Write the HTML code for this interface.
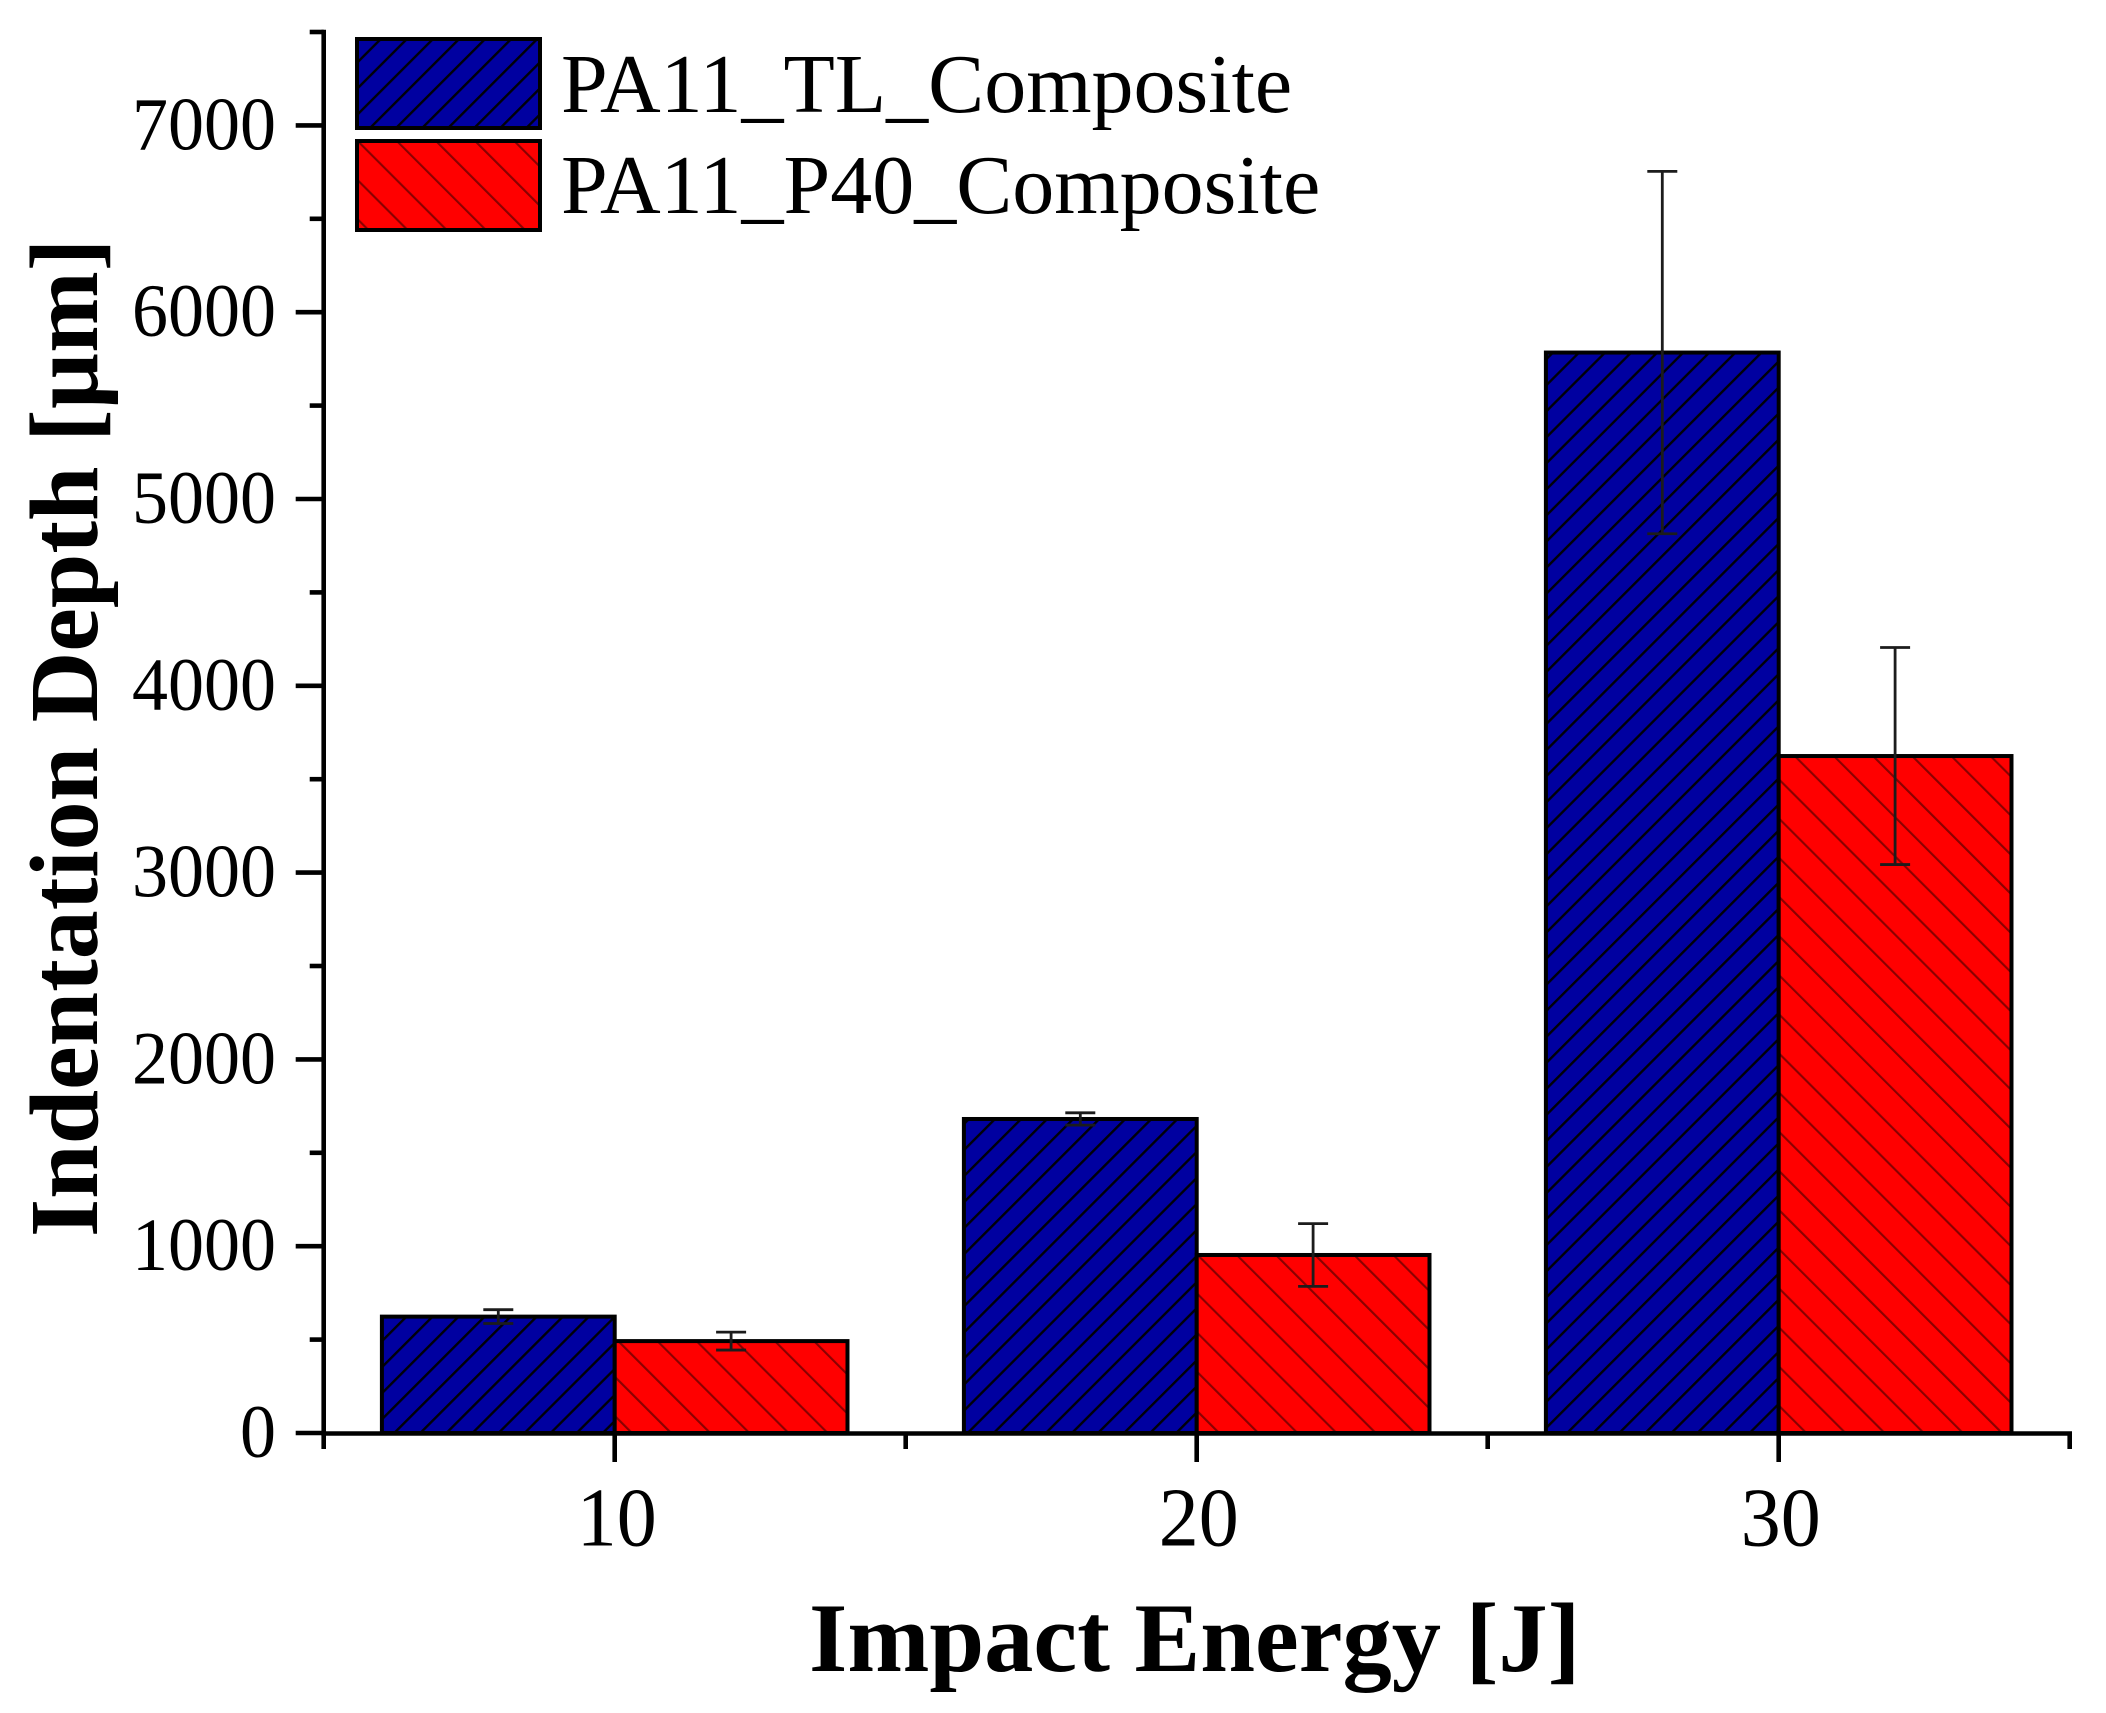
<!DOCTYPE html>
<html lang="en">
<head>
<meta charset="utf-8">
<title>Indentation Depth vs Impact Energy</title>
<style>
  html, body { margin: 0; padding: 0; background: #ffffff; }
  #chart { display: block; width: 2106px; height: 1713px; font-family: "Liberation Serif", serif; fill: #000; }
</style>
</head>
<body>
<svg id="chart" xmlns="http://www.w3.org/2000/svg" width="2106" height="1713" viewBox="0 0 2106 1713">
  <defs>
    <pattern id="hatch-blue" patternUnits="userSpaceOnUse" width="18.43" height="18.43" patternTransform="translate(966,1433) rotate(45)">
      <rect x="0" y="0" width="18.43" height="18.43" fill="#0000a0"></rect>
      <rect x="0" y="0" width="2.4" height="18.43" fill="#000008"></rect>
    </pattern>
    <pattern id="hatch-red" patternUnits="userSpaceOnUse" width="27.68" height="27.68" patternTransform="translate(1217.6,1433) rotate(-45)">
      <rect x="0" y="0" width="27.68" height="27.68" fill="#ff0000"></rect>
      <rect x="0" y="0" width="2.1" height="27.68" fill="#8a0000"></rect>
    </pattern>
  </defs>
  <g id="bars"></g>
  <g id="errors"></g>
  <g id="axes"></g>
  <g id="legend">
    <rect x="357" y="39" width="183" height="89" fill="url(#hatch-blue)" stroke="#000" stroke-width="4"></rect>
    <text x="561" y="112" font-size="84">PA11_TL_Composite</text>
    <rect x="357" y="141" width="183" height="89" fill="url(#hatch-red)" stroke="#000" stroke-width="4"></rect>
    <text x="561" y="213" font-size="84">PA11_P40_Composite</text>
  </g>
  <text x="97" y="1237" font-size="98" font-weight="bold" transform="rotate(-90 97 1237)">Indentation Depth [µm]</text>
  <text x="809" y="1671" font-size="98.5" font-weight="bold">Impact Energy [J]</text>
</svg>
<script>
const categories = [10, 20, 30];
const tlValues = [623, 1681, 5784];
const p40Values = [492, 953, 3624];
const tlErrors = [37, 33, 970];
const p40Errors = [48, 168, 581];
const yTickLabels = [0, 1000, 2000, 3000, 4000, 5000, 6000, 7000];
const yMinorTicks = [500, 1500, 2500, 3500, 4500, 5500, 6500, 7500];
const xMinorTicks = [5, 15, 25, 35];

const SVG_NS = 'http://www.w3.org/2000/svg';
const X0 = 323.7, X_SCALE = 58.2, Y0 = 1433, Y_SCALE = 0.1868;
const BAR_SPAN = 4;

function xPos(v) { return X0 + (v - 5) * X_SCALE; }
function yPos(v) { return Y0 - v * Y_SCALE; }

function make(tag, attrs, parent) {
  const el = document.createElementNS(SVG_NS, tag);
  for (const k in attrs) el.setAttribute(k, attrs[k]);
  parent.appendChild(el);
  return el;
}

const barsG = document.getElementById('bars');
const errorsG = document.getElementById('errors');
const axesG = document.getElementById('axes');

function drawBar(category, value, offset, fill, parent) {
  const left = xPos(category + offset);
  const right = xPos(category + offset + BAR_SPAN);
  const top = yPos(value);
  return make('rect', { x: left, y: top, width: right - left, height: Y0 - top, fill: fill, stroke: '#000', 'stroke-width': 4 }, parent);
}

function drawError(category, value, err, offset, parent) {
  const cx = xPos(category + offset + BAR_SPAN / 2);
  const hi = yPos(value + err);
  const lo = yPos(value - err);
  const g = make('g', { stroke: '#1c1c1c', 'stroke-width': 2.8, fill: 'none' }, parent);
  make('line', { x1: cx, x2: cx, y1: hi, y2: lo }, g);
  make('line', { x1: cx - 15, x2: cx + 15, y1: hi, y2: hi }, g);
  make('line', { x1: cx - 15, x2: cx + 15, y1: lo, y2: lo }, g);
  return g;
}

categories.forEach(function (c, i) {
  const tlBar = drawBar(c, tlValues[i], -BAR_SPAN, 'url(#hatch-blue)', barsG);
  
  
  const p40Bar = drawBar(c, p40Values[i], 0, 'url(#hatch-red)', barsG);
  
  
  const tlErr = drawError(c, tlValues[i], tlErrors[i], -BAR_SPAN, errorsG);
  
  
  const p40Err = drawError(c, p40Values[i], p40Errors[i], 0, errorsG);
  
  
});

const AXIS_W = 4.6;
const yAxisLine = make('line', { x1: X0, x2: X0, y1: yPos(7500) - 2.3, y2: Y0 + 2.3, stroke: '#000', 'stroke-width': AXIS_W }, axesG);


const xAxisLine = make('line', { x1: X0 - 2.3, x2: xPos(35) + 2.3, y1: Y0 + 0.5, y2: Y0 + 0.5, stroke: '#000', 'stroke-width': AXIS_W }, axesG);



yTickLabels.forEach(function (v) {
  const tick = make('line', { x1: X0 - 28, x2: X0, y1: yPos(v), y2: yPos(v), stroke: '#000', 'stroke-width': AXIS_W }, axesG);
  
  
  const label = make('text', { 'font-size': 72, 'text-anchor': 'end', transform: 'translate(276,' + (yPos(v) + 24) + ') scale(1,1.05)' }, axesG);
  label.textContent = String(v);
  
  
});

yMinorTicks.forEach(function (v) {
  const tick = make('line', { x1: X0 - 14, x2: X0, y1: yPos(v), y2: yPos(v), stroke: '#000', 'stroke-width': AXIS_W }, axesG);
  
  
});

categories.forEach(function (c) {
  const tick = make('line', { x1: xPos(c), x2: xPos(c), y1: Y0, y2: Y0 + 29, stroke: '#000', 'stroke-width': AXIS_W }, axesG);
  
  
  const label = make('text', { 'font-size': 80, 'text-anchor': 'middle', transform: 'translate(' + (xPos(c) + 2) + ',1545.5) scale(1,1.05)' }, axesG);
  label.textContent = String(c);
  
  
});

xMinorTicks.forEach(function (c) {
  const tick = make('line', { x1: xPos(c), x2: xPos(c), y1: Y0, y2: Y0 + 16, stroke: '#000', 'stroke-width': AXIS_W }, axesG);
  
  
});
</script>
</body>
</html>
